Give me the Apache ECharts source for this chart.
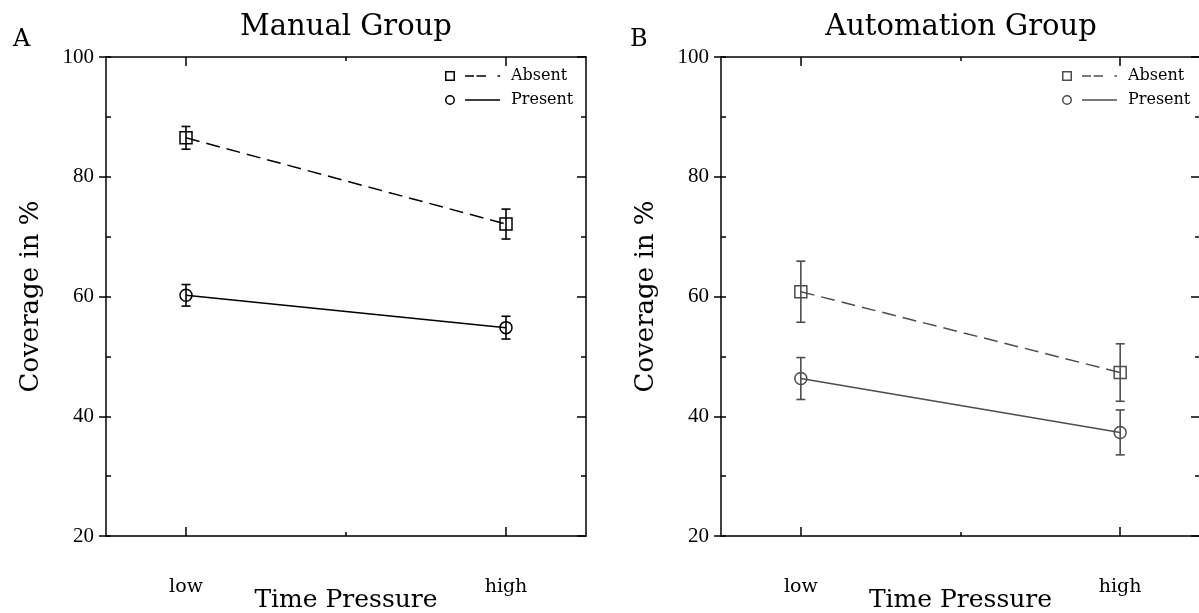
<!DOCTYPE html>
<html>
<head>
<meta charset="utf-8">
<script src="https://cdn.jsdelivr.net/npm/echarts@6/dist/echarts.min.js"></script>
<style>html,body{margin:0;padding:0;background:#fff}#c{width:1199px;height:613px}</style>
</head>
<body>
<div id="c"></div>
<script>
// ---- data ----
const categories = ['low', 'high'];
const yTicks = [20, 40, 60, 80, 100];
const panelTitles = ['Manual Group', 'Automation Group'];
const panelLetters = ['A', 'B'];
const seriesNames = ['Absent', 'Present'];
// Manual group
const manualAbsent = [86.5, 72.1];
const manualAbsentErr = [1.9, 2.5];
const manualPresent = [60.2, 54.8];
const manualPresentErr = [1.8, 1.9];
// Automation group
const autoAbsent = [60.8, 47.3];
const autoAbsentErr = [5.1, 4.8];
const autoPresent = [46.3, 37.3];
const autoPresentErr = [3.5, 3.75];

const FONT = '"DejaVu Serif", "Liberation Serif", serif';
const DIGITS = '"Liberation Serif", "DejaVu Serif", serif';
const colors = ['#000000', '#4d4d4d'];

const grids = [
  { left: 106, top: 57, width: 480, height: 479 },
  { left: 721, top: 57, width: 479, height: 479 }
];

const SQ = 'path://M0,0H10V10H0Z M1.5,1.5V8.5H8.5V1.5Z M20,4.25H29V5.75H20Z M31.5,4.25H41V5.75H31.5Z M52.5,4.25H55V5.75H52.5Z';
const CI = 'path://M0,5A5,5 0 1,1 10,5A5,5 0 1,1 0,5Z M1.5,5A3.5,3.5 0 1,0 8.5,5A3.5,3.5 0 1,0 1.5,5Z M20,4.25H55V5.75H20Z';

const xAxes = [], yAxes = [], series = [], titles = [], legends = [];
const groups = [
  { abs: manualAbsent, absE: manualAbsentErr, pre: manualPresent, preE: manualPresentErr },
  { abs: autoAbsent, absE: autoAbsentErr, pre: autoPresent, preE: autoPresentErr }
];

grids.forEach((g, gi) => {
  const col = colors[gi];
  const xBase = { gridIndex: gi, type: 'value', min: -0.25, max: 1.25, splitLine: { show: false },
    axisLine: { show: true, onZero: false, lineStyle: { color: '#000', width: 1.5 } } };
  // bottom major
  xAxes.push(Object.assign({}, xBase, {
    position: 'bottom', name: 'Time Pressure', nameLocation: 'middle', nameGap: 52, nameMoveOverlap: false,
    nameTextStyle: { fontFamily: FONT, fontSize: 25, color: '#000' },
    axisTick: { inside: true, length: 9, customValues: [0, 1], lineStyle: { color: '#000', width: 1.5 } },
    axisLabel: { customValues: [0, 1], margin: 42, fontFamily: FONT, fontSize: 19, color: '#000',
      formatter: v => categories[Math.round(v)] }
  }));
  // bottom minor
  xAxes.push(Object.assign({}, xBase, {
    position: 'bottom', axisLine: { show: false, onZero: false },
    axisTick: { inside: true, length: 4, customValues: [0.5], lineStyle: { color: '#000', width: 1.5 } },
    axisLabel: { show: false }
  }));
  // top major
  xAxes.push(Object.assign({}, xBase, {
    position: 'top',
    axisTick: { inside: true, length: 9, customValues: [0, 1], lineStyle: { color: '#000', width: 1.5 } },
    axisLabel: { show: false }
  }));
  // top minor
  xAxes.push(Object.assign({}, xBase, {
    position: 'top', axisLine: { show: false, onZero: false },
    axisTick: { inside: true, length: 4, customValues: [0.5], lineStyle: { color: '#000', width: 1.5 } },
    axisLabel: { show: false }
  }));
  const yBase = { gridIndex: gi, type: 'value', min: yTicks[0], max: yTicks[yTicks.length - 1], splitLine: { show: false } };
  // left major (outside ticks, labels)
  yAxes.push(Object.assign({}, yBase, {
    position: 'left', interval: 20,
    name: 'Coverage in %', nameLocation: 'middle', nameGap: 62, nameMoveOverlap: false,
    nameTextStyle: { fontFamily: FONT, fontSize: 26, color: '#000' },
    axisLine: { show: true, onZero: false, lineStyle: { color: '#000', width: 1.5 } },
    axisTick: { inside: false, length: 7, lineStyle: { color: '#000', width: 1.5 } },
    axisLabel: { margin: 12, fontFamily: DIGITS, fontSize: 21, color: '#000' }
  }));
  // left minor (inside)
  yAxes.push(Object.assign({}, yBase, {
    position: 'left', interval: 10,
    axisLine: { show: false, onZero: false },
    axisTick: { inside: true, length: 5, lineStyle: { color: '#000', width: 1.5 } },
    axisLabel: { show: false }
  }));
  // right
  yAxes.push(Object.assign({}, yBase, {
    position: 'right', interval: 20,
    axisLine: { show: true, onZero: false, lineStyle: { color: '#000', width: 1.5 } },
    axisTick: { inside: true, length: 9, lineStyle: { color: '#000', width: 1.5 } },
    minorTick: { show: true, splitNumber: 2, length: 5, lineStyle: { color: '#000', width: 1.5 } },
    axisLabel: { show: false }
  }));

  const xi = gi * 4, yi = gi * 3;
  const grp = groups[gi];
  const defs = [
    { name: seriesNames[0], vals: grp.abs, errs: grp.absE, symbol: 'rect', dash: [14, 7] },
    { name: seriesNames[1], vals: grp.pre, errs: grp.preE, symbol: 'circle', dash: 'solid' }
  ];
  defs.forEach(d => {
    series.push({
      type: 'custom', xAxisIndex: xi, yAxisIndex: yi, silent: true, z: 2,
      data: d.vals.map((v, i) => [i, v - d.errs[i], v + d.errs[i]]),
      renderItem: (params, api) => {
        const x = api.value(0);
        const p1 = api.coord([x, api.value(1)]);
        const p2 = api.coord([x, api.value(2)]);
        const w = 4.5;
        const st = { stroke: col, lineWidth: 1.6 };
        return { type: 'group', children: [
          { type: 'line', shape: { x1: p1[0], y1: p1[1], x2: p2[0], y2: p2[1] }, style: st },
          { type: 'line', shape: { x1: p1[0] - w, y1: p1[1], x2: p1[0] + w, y2: p1[1] }, style: st },
          { type: 'line', shape: { x1: p2[0] - w, y1: p2[1], x2: p2[0] + w, y2: p2[1] }, style: st }
        ] };
      }
    });
    series.push({
      type: 'line', name: d.name, xAxisIndex: xi, yAxisIndex: yi, z: 3,
      data: d.vals.map((v, i) => [i, v]),
      symbol: d.symbol, symbolSize: 12, showSymbol: true,
      itemStyle: { color: 'rgba(0,0,0,0)', borderColor: col, borderWidth: 1.5 },
      lineStyle: { color: col, width: 1.5, type: d.dash },
      emphasis: { disabled: true }, animation: false
    });
  });

  titles.push({ text: panelTitles[gi], left: g.left + 240, top: 13, textAlign: 'center', padding: 0,
    textStyle: { fontFamily: FONT, fontSize: 29, fontWeight: 'normal', color: '#000' } });
  titles.push({ text: panelLetters[gi], left: gi === 0 ? 13 : 630, top: 28, padding: 0,
    textStyle: { fontFamily: FONT, fontSize: 24, fontWeight: 'normal', color: '#000' } });

  legends.push({
    orient: 'vertical', left: gi === 0 ? 445 : 1062, top: 68, padding: 0,
    itemWidth: 55, itemHeight: 10, itemGap: 8,
    selectedMode: false,
    data: [
      { name: seriesNames[0], icon: SQ, itemStyle: { color: col, borderWidth: 0 } },
      { name: seriesNames[1], icon: CI, itemStyle: { color: col, borderWidth: 0 } }
    ],
    textStyle: { fontFamily: FONT, fontSize: 16, color: '#000', padding: [0, 0, 0, 6] }
  });
});

const chart = echarts.init(document.getElementById('c'), null, { renderer: 'canvas' });
chart.setOption({
  animation: false,
  backgroundColor: '#fff',
  title: titles,
  legend: legends,
  grid: grids.map(g => Object.assign({ containLabel: false, outerBoundsMode: 'none' }, g)),
  xAxis: xAxes,
  yAxis: yAxes,
  series: series
});
</script>
</body>
</html>
